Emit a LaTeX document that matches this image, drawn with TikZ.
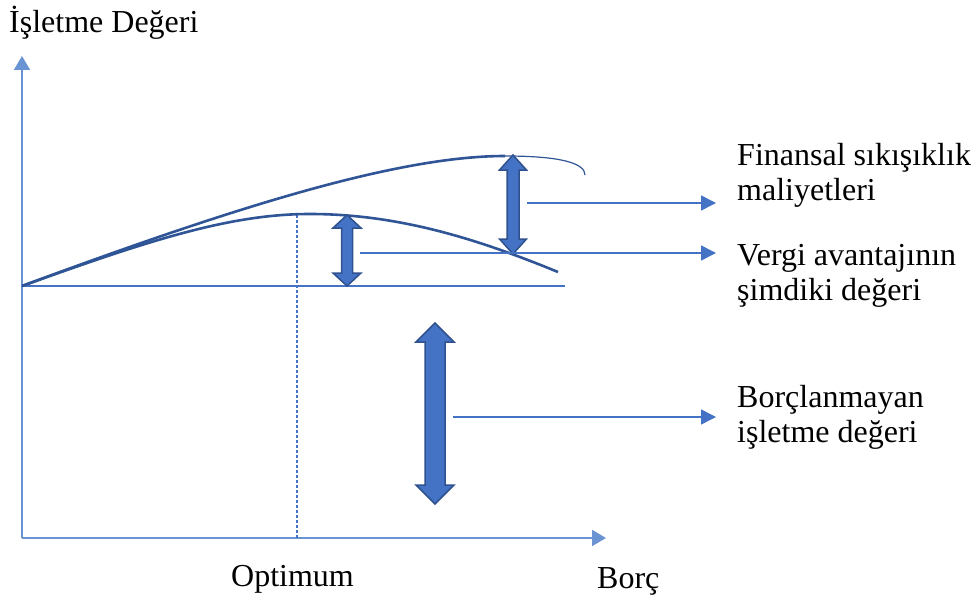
\documentclass[tikz,border=0pt]{standalone}
\usepackage{fontspec}
\setmainfont{Liberation Serif}
\usetikzlibrary{arrows.meta}

\definecolor{axisblue}{HTML}{6A93D4}
\definecolor{lineblue}{HTML}{4472C4}
\definecolor{curveblue}{HTML}{2F5597}
\definecolor{arrowedge}{HTML}{2F528F}

\tikzset{
  axisline/.style={draw=axisblue, line width=2pt, -{Triangle[length=14pt,width=16pt]}},
  conn/.style={draw=lineblue, line width=1.5pt, -{Triangle[length=15pt,width=15pt]}, shorten >=21pt},
  curve/.style={draw=curveblue, line width=2.6pt},
  lbl/.style={inner sep=0pt, anchor=base west, align=left, font=\fontsize{32}{35}\selectfont},
  dbl/.style={fill=lineblue, draw=arrowedge, line width=1.5pt, line join=miter},
}

% double arrow: centre x, top y, bottom y, half shaft, half head, head length
\newcommand{\dblarrow}[6]{%
  \draw[dbl] (#1-#4,#2+#6) -- (#1-#5,#2+#6) -- (#1,#2) -- (#1+#5,#2+#6)
    -- (#1+#4,#2+#6) -- (#1+#4,#3-#6) -- (#1+#5,#3-#6) -- (#1,#3)
    -- (#1-#5,#3-#6) -- (#1-#4,#3-#6) -- cycle;}

\begin{document}
\begin{tikzpicture}[x=1pt, y=-1pt]
    \useasboundingbox (0,0) rectangle (977,599);
    % axes
    \coordinate (o) at (22,538);
    \coordinate (ytip) at (22,56);
    \coordinate (xtip) at (606,538);
    \draw[axisline] (o) -- (ytip);
    \draw[axisline] (o) -- (xtip);
    \node[lbl] (ylbl) at (9,33) {İşletme Değeri};
    \node[lbl] (xlbl) at (597,588) {Borç};
    \node[lbl] (optlbl) at (231,586) {Optimum};

    % unlevered value and optimum
    \coordinate (v0) at (22,286);
    \coordinate (peak) at (297,215);
    \draw[lineblue, line width=1.5pt] (v0) -- (565,286);
    \draw[lineblue, line width=1.2pt, dash pattern=on 3pt off 2pt] (peak) -- (peak |- o);

    % value curves
    \draw[curve] (v0) .. controls (240,205) and (400,156) .. (505,156);
    \draw[curveblue, line width=1.2pt] (505,156) .. controls (560,156) and (585,163) .. (585,175);
    \draw[curve] (v0) .. controls (150,240) and (230,214) .. (310,214)
        .. controls (400,214) and (480,240) .. (558,272);

    % double arrows
    \dblarrow{513}{155}{254}{6}{13.5}{15} % distress costs
    \dblarrow{347}{215}{286}{5.5}{14}{13} % tax shield
    \dblarrow{435}{323}{504}{10}{19}{19} % unlevered value

    % labels and connectors (base = last line)
    \node[lbl] (finlbl) at (737,200) {Finansal sıkışıklık\\maliyetleri};
    \node[lbl] (vergilbl) at (737,300) {Vergi avantajının\\şimdiki değeri};
    \node[lbl] (borclbl) at (737,442) {Borçlanmayan\\işletme değeri};
    \coordinate (fin) at (527,203);
    \coordinate (vergi) at (360,253);
    \coordinate (borc) at (453,417);
    \draw[conn] (fin) -- (fin -| finlbl.west);
    \draw[conn] (vergi) -- (vergi -| vergilbl.west);
    \draw[conn] (borc) -- (borc -| borclbl.west);
\end{tikzpicture}
\end{document}
